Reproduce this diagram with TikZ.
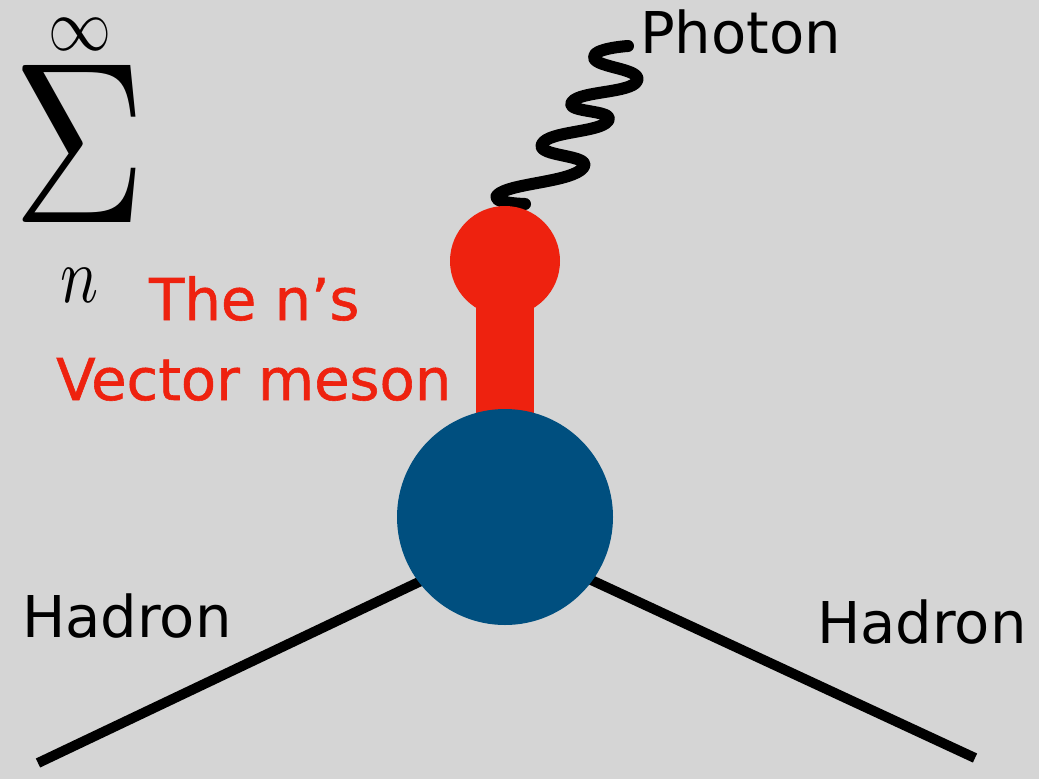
\documentclass[tikz,border=0pt]{standalone}
\usepackage{fontspec}
\setsansfont{DejaVu Sans}
\newfontfamily\labfont{DejaVu Sans}
\newfontfamily\redfont[FakeBold=1]{DejaVu Sans}
\usetikzlibrary{calc}
\pgfdeclarelayer{back}
\pgfsetlayers{back,main}
\definecolor{bg}{HTML}{D5D5D5}
\definecolor{mesonred}{HTML}{EE220F}
\definecolor{blobblue}{HTML}{004F7F}
\tikzset{
  lab/.style={anchor=base west, inner sep=0pt, font=\labfont\fontsize{57.6}{60}\selectfont, text=black},
  redlab/.style={anchor=base west, inner sep=0pt, font=\redfont\fontsize{57.6}{60}\selectfont, text=mesonred},
  hadronline/.style={line width=10pt, black},
  photonline/.style={line width=12pt, black, line cap=round, line join=round},
  ball/.style={circle, inner sep=0pt},
  mathsym/.style={inner sep=0pt, anchor=north west},
}
\begin{document}
\begin{tikzpicture}[x=1pt,y=-1pt]
\useasboundingbox (0,0) rectangle (1039,779);
% sum symbol
\node[mathsym] (sig) at (12,65) {\resizebox{134pt}{157pt}{$\Sigma$}};
\node[mathsym] (inf) at (48,18) {\resizebox{63pt}{32pt}{$\infty$}};
\node[mathsym] (nn) at (60,268) {\resizebox{38pt}{34pt}{$n$}};
% nodes
\node[ball, fill=mesonred, minimum size=110pt] (rball) at (505,261) {};
\node[ball, fill=blobblue, minimum size=216pt] (blob) at (505,517) {};
\coordinate (hadL) at (38,763);
\coordinate (hadR) at (975,758);
\begin{pgfonlayer}{back}
\fill[bg] (0,0) rectangle (1039,779);
\draw[photonline] plot[smooth, tension=1] coordinates {(628,46) (594,58) (637,81) (572,102) (608,121) (542,144) (583,168) (500,193) (525,204)};
\draw[line width=58pt, mesonred] (rball.center) -- (blob.center);
\draw[hadronline] (hadL) -- ($(hadL)!1.08!(blob.217)$);
\draw[hadronline] (hadR) -- ($(hadR)!1.08!(blob.324)$);
\end{pgfonlayer}
% labels
\node[lab] (photon) at (640,53) {Photon};
\node[redlab] (ns) at (149,320) {The n’s};
\node[redlab] (vm) at (56,400) {Vector meson};
\node[lab] (hL) at (22,637) {Hadron};
\node[lab] (hR) at (817,643) {Hadron};
\end{tikzpicture}
\end{document}
